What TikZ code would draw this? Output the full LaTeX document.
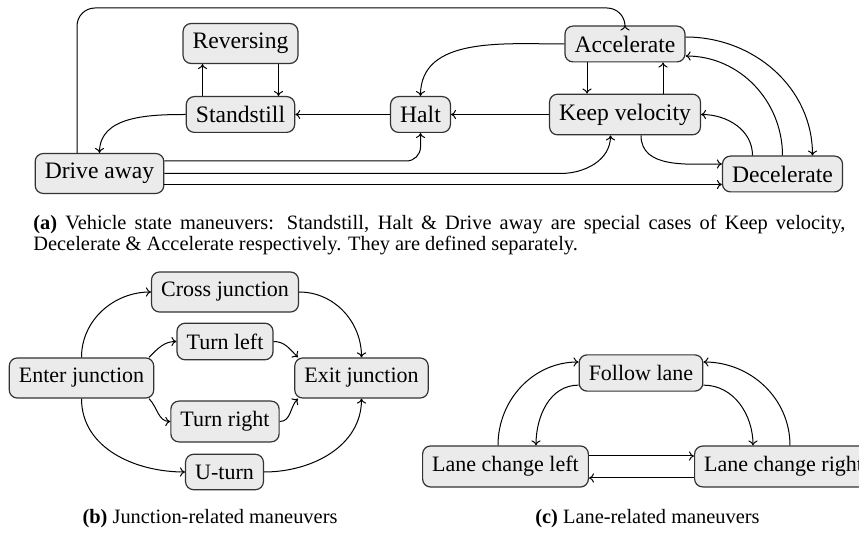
\documentclass[tikz,border=0pt]{standalone}
\usepackage{fontspec}
\setmainfont{Liberation Serif}
\usetikzlibrary{arrows.meta,calc}
\begin{document}
\begin{tikzpicture}[x=0.5pt,y=-0.5pt,
  state/.style={draw=black!80, fill=black!8, rounded corners=4pt, line width=0.6pt,
    inner xsep=4.8pt, inner ysep=4.8pt, font=\fontsize{11.8}{14}\selectfont},
  small state/.style={state, inner ysep=5.2pt, font=\fontsize{11}{13}\selectfont},
  link/.style={line width=0.5pt, -{To[length=2.5pt,width=4.6pt]}},
  captext/.style={font=\fontsize{10.2}{12.5}\selectfont, inner sep=0pt}]
\useasboundingbox (0,0) rectangle (859,534);

% ---------- (a) vehicle state maneuvers ----------
\node[state] (rev)   at (240.5,43.5) {Reversing};
\node[state] (still) at (240.5,114.5) {Standstill};
\node[state] (halt)  at (420.5,114.5) {Halt};
\node[state] (keep)  at (625,114.5) {Keep velocity};
\node[state] (acc)   at (625,44) {Accelerate};
\node[state] (drive) at (99.5,173.5) {Drive away};
\node[state] (dec)   at (782.5,174) {Decelerate};

\draw[link] ($(rev.south)+(38,0)$) -- ($(still.north)+(38,0)$);
\draw[link] ($(still.north)+(-38,0)$) -- ($(rev.south)+(-38,0)$);
\draw[link] (halt.west) -- (still.east);
\draw[link] (keep.west) -- (halt.east);
\draw[link] (still.west) to[out=180,in=90] (drive.north);
\draw[link] (acc.west) to[out=180,in=90] (halt.north);
\draw[link] ($(acc.south)+(-38,0)$) -- ($(keep.north)+(-38,0)$);
\draw[link] ($(keep.north)+(38,0)$) -- ($(acc.south)+(38,0)$);

\coordinate (topy) at (0,8);
\coordinate (d0) at ($(drive.north)+(-22.5,0)$);
\draw[link, rounded corners=9pt] (d0) |- (topy -| acc.north) -- (acc.north);

\coordinate (d1) at ($(drive.east)+(0,-12.5)$);
\draw[link, rounded corners=7pt] (d1) -| (halt.south);

\coordinate (k1) at ($(keep.south)+(-14.5,0)$);
\coordinate (k1b) at ($(drive.east -| k1)+(-50,0)$);
\draw[link] (drive.east) -- (k1b) to[out=0,in=-90] (k1);

\coordinate (d3) at ($(drive.east)+(0,11)$);
\draw[link] (d3) -- (d3 -| dec.west);

\draw[link] ($(keep.south)+(16,0)$) to[out=-90,in=180] ($(dec.west)+(0,-10)$);
\draw[link] ($(dec.north)+(-30,0)$) to[out=90,in=0] (keep.east);
\draw[link] (dec.north) to[out=90,in=0] ($(acc.east)+(0,12)$);
\draw[link] ($(acc.east)+(0,-7)$) to[out=0,in=90] ($(dec.north)+(30,0)$);

\node[captext, anchor=base west] (capa1) at (33,230)
  {\makebox[406pt][s]{\textbf{(a)} Vehicle state maneuvers: Standstill, Halt \& Drive away are special cases of Keep velocity,}};
\node[captext, anchor=base west] (capa2) at (33,251)
  {Decelerate \& Accelerate respectively. They are defined separately.};

% ---------- (b) junction-related maneuvers ----------
\node[small state] (enter) at (81.5,378) {Enter junction};
\node[small state] (cross) at (225,292) {Cross junction};
\node[small state] (tl)    at (225,341.5) {Turn left};
\node[small state] (tr)    at (225,421.5) {Turn right};
\node[small state] (ut)    at (224.5,472) {U-turn};
\node[small state] (exit)  at (361.5,378) {Exit junction};

\draw[link] (enter.north) to[out=90,in=180] (cross.west);
\draw[link] (enter.17) to[out=45,in=180] (tl.west);
\draw[link] (enter.-17) to[out=-45,in=180] (tr.west);
\draw[link] (enter.south) to[out=-90,in=180] (ut.west);
\draw[link] (cross.east) to[out=0,in=90] (exit.north);
\draw[link] (tl.east) to[out=0,in=135] (exit.162);
\draw[link] (tr.east) to[out=0,in=-135] (exit.198);
\draw[link] (ut.east) to[out=0,in=-90] (exit.south);

\node[captext, anchor=base] (capb) at (210,524) {\textbf{(b)} Junction-related maneuvers};

% ---------- (c) lane-related maneuvers ----------
\node[small state] (follow) at (641,373) {Follow lane};
\node[small state] (lcl)    at (505.5,466.5) {Lane change left};
\node[small state, anchor=west] (lcr) at (694,466.5) {Lane change right};

\draw[link] ($(lcl.north)+(-7.5,0)$) to[out=90,in=180] (follow.170);
\draw[link] (follow.191) to[out=180,in=90] ($(lcl.north)+(30.5,0)$);
\draw[link] (follow.-11) to[out=0,in=90] ($(lcr.north west)+(59,0)$);
\draw[link] ($(lcr.north west)+(96,0)$) to[out=90,in=0] (follow.10);
\coordinate (l1) at ($(lcl.east)+(0,-10.5)$);
\draw[link] (l1) -- (l1 -| lcr.west);
\coordinate (l2) at ($(lcr.west)+(0,11.5)$);
\draw[link] (l2) -- (l2 -| lcl.east);

\node[captext, anchor=base] (capc) at (647.5,524) {\textbf{(c)} Lane-related maneuvers};
\end{tikzpicture}
\end{document}
